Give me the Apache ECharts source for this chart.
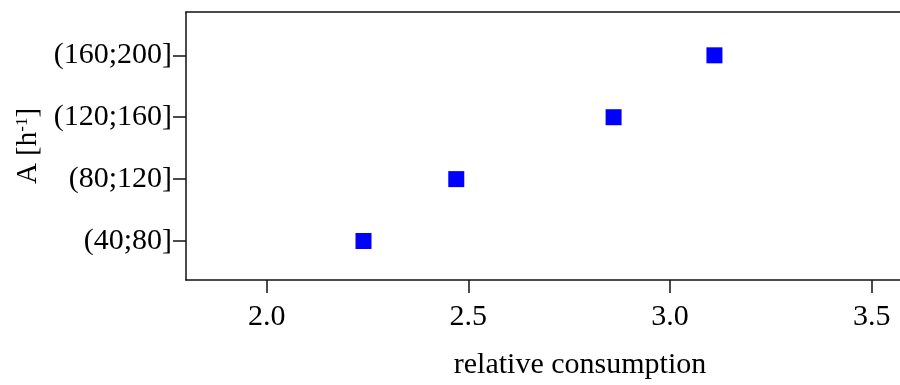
<!DOCTYPE html>
<html>
<head>
<meta charset="utf-8">
<script src="https://cdn.jsdelivr.net/npm/echarts@6/dist/echarts.min.js"></script>
<style>html,body{margin:0;padding:0;background:#fff;overflow:hidden}#c{width:900px;height:385px}</style>
</head>
<body>
<div id="c"></div>
<script>
const categories = ['(40;80]', '(80;120]', '(120;160]', '(160;200]'];
const consumption = [2.24, 2.47, 2.86, 3.11];
const xTicks = [2.0, 2.5, 3.0, 3.5];
const yTicks = [1, 2, 3, 4];

const FONT = 'Liberation Serif';
const chart = echarts.init(document.getElementById('c'), null, { width: 900, height: 385 });
chart.setOption({
  animation: false,
  backgroundColor: '#fff',
  grid: { left: 186, top: 12, right: 0, bottom: 101, containLabel: false },
  xAxis: [{
    type: 'value', min: 1.8, max: 3.57,
    name: 'relative consumption', nameLocation: 'middle', nameGap: 70,
    nameTextStyle: { fontFamily: FONT, fontSize: 30, color: '#000', padding: [0, 0, 0, 74] },
    axisLine: { show: true, onZero: false, lineStyle: { color: '#111', width: 1.5 } },
    axisTick: { show: true, length: 13, customValues: xTicks, lineStyle: { color: '#111', width: 1.5 } },
    axisLabel: { customValues: xTicks, margin: 22, fontFamily: FONT, fontSize: 30, color: '#000',
      formatter: v => v.toFixed(1) },
    splitLine: { show: false }
  }, {
    type: 'value', position: 'top', min: 1.8, max: 3.57,
    axisLine: { show: true, onZero: false, lineStyle: { color: '#111', width: 1.5 } },
    axisTick: { show: false }, axisLabel: { show: false }, splitLine: { show: false }
  }],
  yAxis: {
    type: 'value', min: 0.37, max: 4.70,
    name: 'A [h{sup|-1}]', nameLocation: 'middle', nameGap: 143, nameRotate: 90,
    nameTextStyle: { fontFamily: FONT, fontSize: 29, color: '#000',
      rich: { sup: { fontFamily: FONT, fontSize: 17, color: '#000', verticalAlign: 'top', padding: [0, 0, 12, 0] } } },
    axisLine: { show: true, onZero: false, lineStyle: { color: '#111', width: 1.5 } },
    axisTick: { show: true, length: 13, customValues: yTicks, lineStyle: { color: '#111', width: 1.5 } },
    axisLabel: { customValues: yTicks, margin: 14, fontFamily: FONT, fontSize: 30, color: '#000',
      formatter: v => categories[Math.round(v) - 1] || '' },
    splitLine: { show: false }
  },
  series: [{
    type: 'scatter',
    symbol: 'rect', symbolSize: 16,
    itemStyle: { color: '#0000ff', opacity: 1 },
    data: consumption.map((v, i) => [v, i + 1])
  }]
});
</script>
</body>
</html>
